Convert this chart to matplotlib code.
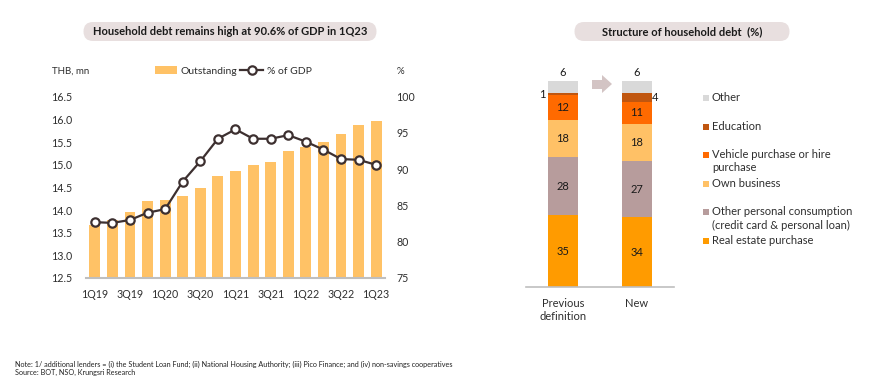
import matplotlib.pyplot as plt
import numpy as np
from matplotlib.patches import FancyBboxPatch, Polygon, Rectangle

plt.rcParams['font.family'] = ['Lato', 'DejaVu Sans']

# household debt outstanding (THB tn) and % of GDP, 1Q19-1Q23
quarters = ['1Q19', '2Q19', '3Q19', '4Q19', '1Q20', '2Q20', '3Q20', '4Q20',
            '1Q21', '2Q21', '3Q21', '4Q21', '1Q22', '2Q22', '3Q22', '4Q22', '1Q23']
outstanding = [13.67, 13.78, 13.95, 14.20, 14.21, 14.31, 14.48, 14.75, 14.85,
               15.00, 15.05, 15.30, 15.40, 15.51, 15.67, 15.87, 15.96]
pct_gdp = [82.7, 82.6, 83.0, 84.0, 84.5, 88.3, 91.1, 94.2, 95.5,
           94.2, 94.2, 94.7, 93.8, 92.7, 91.4, 91.3, 90.6]

# structure of household debt (%)
definitions = ['Previous\ndefinition', 'New']
categories = ['Real estate purchase',
              'Other personal consumption\n(credit card & personal loan)',
              'Own business', 'Vehicle purchase or hire\npurchase',
              'Education', 'Other']
shares = {
    'Real estate purchase': [35, 34],
    'Other personal consumption\n(credit card & personal loan)': [28, 27],
    'Own business': [18, 18],
    'Vehicle purchase or hire\npurchase': [12, 11],
    'Education': [1, 4],
    'Other': [6, 6],
}
colors = ['#FF9B00', '#B79C9C', '#FFC166', '#FF6A00', '#C0560F', '#D9D9D9']

W, H = 870, 387
fig = plt.figure(figsize=(W / 100, H / 100), dpi=100)


def fx(x):
    return x / W


def fy(y):
    return 1 - y / H


def title_box(x0, x1, y0, y1, text):
    r = (y1 - y0) / 2
    box = FancyBboxPatch((fx(x0 + r), fy(y1)), fx(x1 - x0 - 2 * r), (y1 - y0) / H,
                         boxstyle=f'round,pad=0,rounding_size={r / W}',
                         mutation_aspect=W / H, transform=fig.transFigure,
                         facecolor='#E8DFDF', edgecolor='none')
    fig.patches.append(box)
    fig.text(fx((x0 + x1) / 2), fy((y0 + y1) / 2), text, ha='center', va='center',
             fontsize=8, fontweight='bold', color='#1a1a1a')


text_c = '#2e2e2e'

# ---- left chart
ax = fig.add_axes([fx(86), fy(278), fx(385 - 86), (278 - 96.7) / H])
x = np.arange(len(quarters))
ax.bar(x, outstanding, width=0.62, color='#FFC266', label='Outstanding', zorder=2)
ax.set_ylim(12.5, 16.5)
ax.set_xlim(-0.5, len(quarters) - 0.5)
ax.set_yticks(np.arange(12.5, 16.51, 0.5))
ax.set_yticklabels([f'{v:.1f}' for v in np.arange(12.5, 16.51, 0.5)])
ax.set_xticks(x[::2])
ax.set_xticklabels(quarters[::2])
for s in ['top', 'right', 'left']:
    ax.spines[s].set_visible(False)
ax.spines['bottom'].set_color('#BFBFBF')
ax.spines['bottom'].set_linewidth(1.5)
ax.tick_params(length=0, labelsize=7.7, labelcolor=text_c)
ax.tick_params(axis='y', pad=10)
ax.tick_params(axis='x', pad=8)

ax2 = ax.twinx()
ax2.plot(x, pct_gdp, color='#3D3030', lw=1.6, marker='o', ms=6,
         mfc='white', mec='#3D3030', mew=1.6, label='% of GDP', zorder=3)
ax2.set_ylim(75, 100)
ax2.set_yticks([75, 80, 85, 90, 95, 100])
for s in ['top', 'right', 'left', 'bottom']:
    ax2.spines[s].set_visible(False)
ax2.tick_params(length=0, labelsize=7.7, labelcolor=text_c, pad=8)

h1, l1 = ax.get_legend_handles_labels()
h2, l2 = ax2.get_legend_handles_labels()
ax.legend(h1 + h2, l1 + l2, ncol=2, loc='center', bbox_to_anchor=(fx(233), fy(71)),
          bbox_transform=fig.transFigure, frameon=False, fontsize=7.5,
          handlelength=2.2, handletextpad=0.3, columnspacing=0.3,
          labelcolor=text_c)
fig.text(fx(52), fy(71), 'THB, mn', fontsize=7, va='center', color=text_c)
fig.text(fx(397), fy(71), '%', fontsize=7, va='center', color=text_c)
title_box(74, 386, 22, 41, 'Household debt remains high at 90.6% of GDP in 1Q23')

# ---- right chart
bx = fig.add_axes([fx(526), fy(287.3), fx(148), (287.3 - 81) / H])
xb = np.arange(len(definitions))
bottom = np.zeros(len(definitions))
for cat, col in zip(categories, colors):
    vals = np.array(shares[cat])
    bx.bar(xb, vals, bottom=bottom, width=0.4, color=col, zorder=2)
    for i, v in enumerate(vals):
        mid = bottom[i] + v / 2
        if cat == 'Other':
            bx.text(xb[i], bottom[i] + v + 1.5, str(v), ha='center', va='bottom',
                    fontsize=8, color='#1a1a1a')
        elif cat == 'Education':
            if i == 0:
                bx.text(xb[i] - 0.23, mid, str(v), ha='right', va='center',
                        fontsize=8, color='#1a1a1a')
            else:
                bx.text(xb[i] + 0.2, mid, str(v), ha='left', va='center',
                        fontsize=8, color='#1a1a1a')
        else:
            bx.text(xb[i], mid, str(v), ha='center', va='center',
                    fontsize=8, color='#1a1a1a')
    bottom += vals
bx.set_ylim(0, 100)
bx.set_xlim(-0.5, 1.5)
bx.set_yticks([])
bx.set_xticks(xb)
bx.set_xticklabels(definitions)
for s in ['top', 'right', 'left']:
    bx.spines[s].set_visible(False)
bx.spines['bottom'].set_color('#BFBFBF')
bx.spines['bottom'].set_linewidth(1.2)
bx.tick_params(length=0, labelsize=8, labelcolor=text_c, pad=8)

# arrow between the bars
arrow = Polygon([(fx(592), fy(80)), (fx(602), fy(80)), (fx(602), fy(75)),
                 (fx(612), fy(84)), (fx(602), fy(93)), (fx(602), fy(89)),
                 (fx(592), fy(89))], closed=True, transform=fig.transFigure,
                facecolor='#D3C4C4', edgecolor='none')
fig.patches.append(arrow)

# legend, top entry first
for k, (cat, col) in enumerate(zip(categories[::-1], colors[::-1])):
    yy = 98 + k * 28.6
    fig.patches.append(Rectangle((fx(703), fy(yy + 3)), fx(6), 6 / H,
                                 transform=fig.transFigure, facecolor=col,
                                 edgecolor='none'))
    fig.text(fx(712), fy(yy - 6), cat, fontsize=8, va='top', ha='left',
             color=text_c, linespacing=1.25)

title_box(565, 799, 22, 41, 'Structure of household debt  (%)')

fig.text(fx(15), fy(364),
         'Note: 1/ additional lenders = (i) the Student Loan Fund; (ii) National Housing '
         'Authority; (iii) Pico Finance; and (iv) non-savings cooperatives',
         fontsize=5.2, va='center', color='#222222')
fig.text(fx(15), fy(372), 'Source: BOT, NSO, Krungsri Research',
         fontsize=5.2, va='center', color='#222222')

fig.savefig('out.png', dpi=100)
